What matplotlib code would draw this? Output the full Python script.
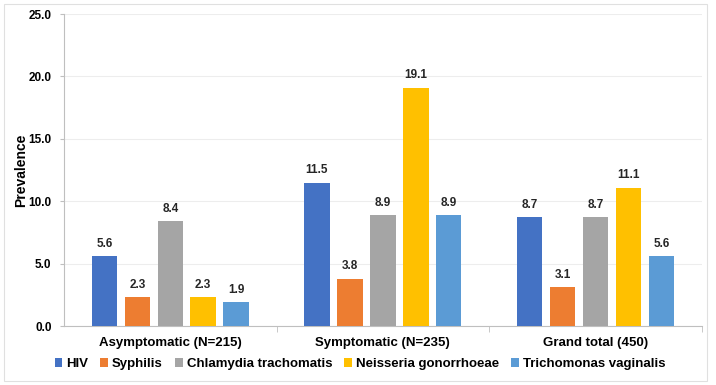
import numpy as np
import matplotlib.pyplot as plt

# data
groups = ['Asymptomatic (N=215)', 'Symptomatic (N=235)', 'Grand total (450)']
series = ['HIV', 'Syphilis', 'Chlamydia trachomatis', 'Neisseria gonorrhoeae', 'Trichomonas vaginalis']
hiv = [5.6, 11.5, 8.7]
syphilis = [2.3, 3.8, 3.1]
chlamydia = [8.4, 8.9, 8.7]
neisseria = [2.3, 19.1, 11.1]
trichomonas = [1.9, 8.9, 5.6]
colors = ['#4472C4', '#ED7D31', '#A5A5A5', '#FFC000', '#5B9BD5']

plt.rcParams['font.family'] = ['Liberation Sans', 'DejaVu Sans']

fig = plt.figure(figsize=(7.16, 3.85), dpi=100)
ax = fig.add_axes([0.0894, 0.153, 0.8906, 0.8106])

x = np.arange(len(groups))
w = 0.12
step = 0.155
values = [hiv, syphilis, chlamydia, neisseria, trichomonas]
for i, (name, vals) in enumerate(zip(series, values)):
    pos = x + (i - 2) * step
    bars = ax.bar(pos, vals, w, color=colors[i], label=name, zorder=3)
    for b, v in zip(bars, vals):
        ax.text(b.get_x() + b.get_width() / 2, v + 0.5, f'{v:.1f}',
                ha='center', va='bottom', fontsize=8.5, fontweight='bold', color='#262626')

ax.set_xlim(-0.5, 2.5)
ax.set_ylim(0, 25)
ax.set_yticks(np.arange(0, 25.1, 5))
ax.set_yticklabels([f'{t:.1f}' for t in np.arange(0, 25.1, 5)])
ax.set_ylabel('Prevalence', fontsize=10, fontweight='bold')
ax.yaxis.set_label_coords(-0.057, 0.5)

ax.set_xticks(x)
ax.set_xticklabels(groups, fontsize=9.5, fontweight='bold')
ax.tick_params(axis='x', length=0, pad=8)
ax.set_xticks([0.5, 1.5, 2.5], minor=True)
ax.tick_params(axis='x', which='minor', length=4, color='#BFBFBF')
ax.tick_params(axis='y', length=3, color='#BFBFBF', labelsize=8.5, pad=6)
for lab in ax.get_yticklabels():
    lab.set_fontweight('bold')

ax.grid(axis='y', color='#EDEDED', linewidth=0.8, zorder=0)
for s in ['top', 'right']:
    ax.spines[s].set_visible(False)
ax.spines['left'].set_color('#BFBFBF')
ax.spines['bottom'].set_color('#BFBFBF')

leg = ax.legend(loc='center', bbox_to_anchor=(0.464, -0.122), ncol=5, frameon=False,
                prop={'weight': 'bold', 'size': 9.5}, handlelength=0.6, handleheight=0.6,
                handletextpad=0.3, columnspacing=0.9, borderpad=0)

# thin border round the figure
fig.patches.append(plt.Rectangle((0.005, 0.01), 0.982, 0.98, transform=fig.transFigure,
                                 fill=False, edgecolor='#E0E0E0', linewidth=0.8))

fig.savefig('out.png', dpi=100)
